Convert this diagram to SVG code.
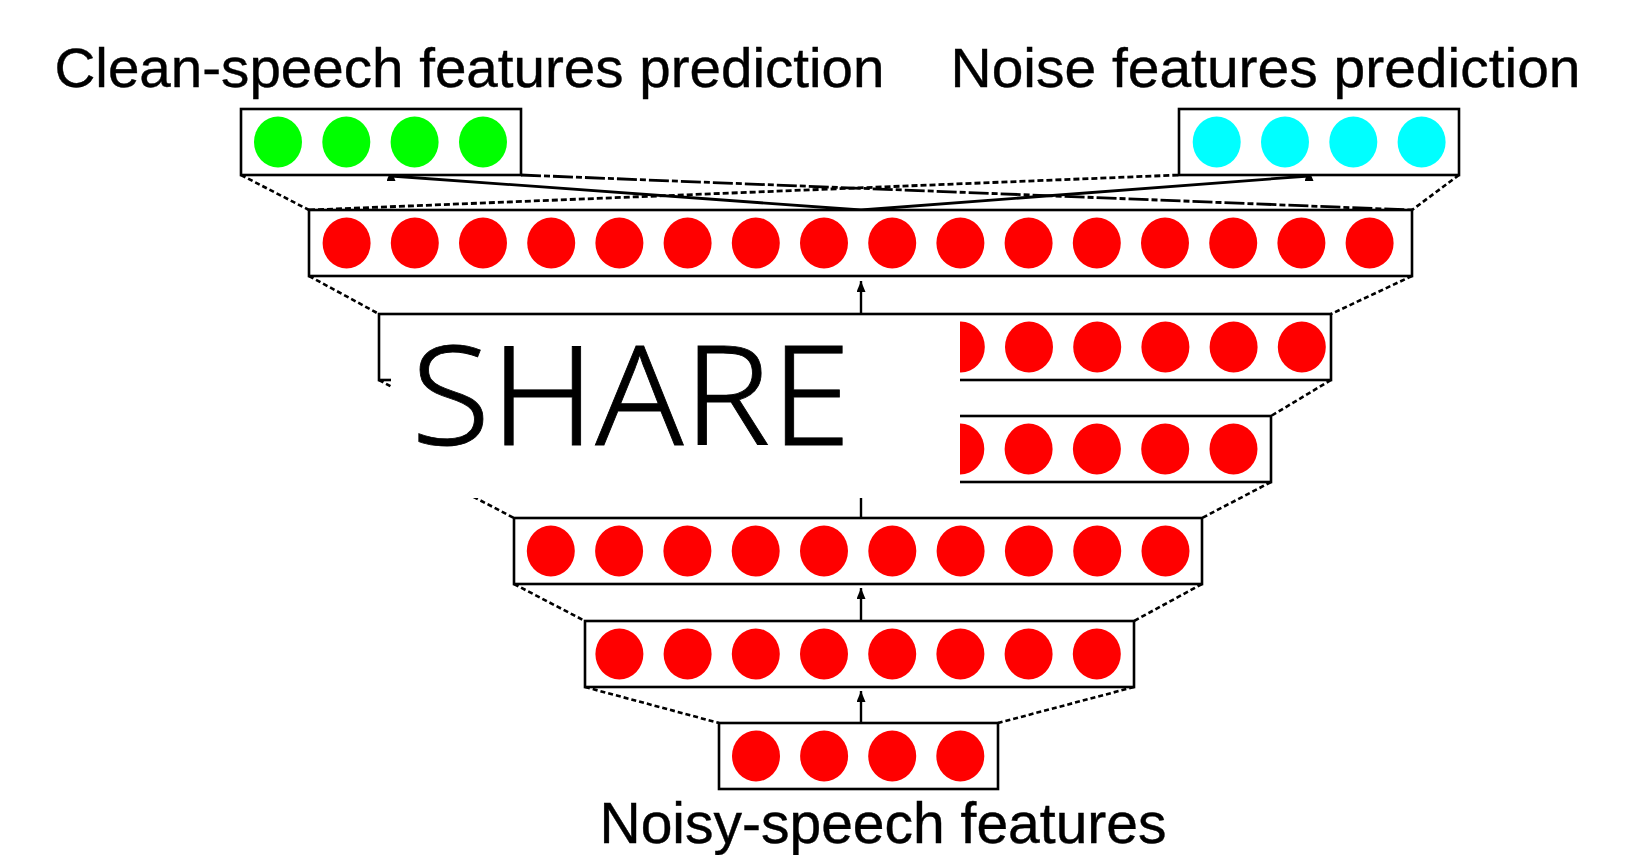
<svg xmlns="http://www.w3.org/2000/svg" width="1642" height="855" viewBox="0 0 1642 855">
  <style>
    .box { fill: #ffffff; stroke: #000000; stroke-width: 2.6; }
    .red { fill: #ff0000; }
    .green { fill: #00ff00; }
    .cyan { fill: #00ffff; }
    .title { font-family: "Liberation Sans", Arial, sans-serif; font-size: 56px; fill: #000000; stroke: #000000; stroke-width: 0.4; }
    .edge { fill: none; stroke: #000000; stroke-width: 2.6; stroke-dasharray: 5 3; }
    .stem { fill: none; stroke: #000000; stroke-width: 2.4; }
    .feed { fill: none; stroke: #000000; stroke-width: 2.8; }
    .cross-a { fill: none; stroke: #000000; stroke-width: 2.8; stroke-dasharray: 20 3 6 3; }
    .cross-b { fill: none; stroke: #000000; stroke-width: 2.8; stroke-dasharray: 6 3; }
    .share { font-family: "Noto Sans", "Noto Sans CJK JP", sans-serif; font-weight: 300; font-size: 139px; fill: #000000; stroke: #000000; stroke-width: 0.8; }
  </style>
  <defs>
    <marker id="arrow" markerUnits="userSpaceOnUse" markerWidth="11" markerHeight="9" refX="11" refY="4.5" orient="auto">
      <path d="M0,0 L11,4.5 L0,9 z" fill="#000000"/>
    </marker>
    <marker id="arrow-up" markerUnits="userSpaceOnUse" markerWidth="11" markerHeight="9" refX="5" refY="4.5" orient="270">
      <path d="M0,0 L11,4.5 L0,9 z" fill="#000000"/>
    </marker>
  </defs>

  <rect width="1642" height="855" fill="#ffffff"/>

  <!-- headings -->
  <text class="title" x="54.5" y="87" textLength="830" lengthAdjust="spacingAndGlyphs">Clean-speech features prediction</text>
  <text class="title" x="950.5" y="87" textLength="630" lengthAdjust="spacingAndGlyphs">Noise features prediction</text>
  <text class="title" x="599.5" y="843" style="font-size:57px" textLength="567" lengthAdjust="spacingAndGlyphs">Noisy-speech features</text>

  <!-- connectors between layers -->
  <g id="connectors">
    <!-- corner guides -->
    <line class="edge" x1="241" y1="175" x2="309" y2="210"/>
    <line class="edge" x1="1459" y1="175" x2="1412" y2="210"/>
    <line class="edge" x1="309" y1="276" x2="379" y2="314"/>
    <line class="edge" x1="1412" y1="276" x2="1331" y2="314"/>
    <line class="edge" x1="379" y1="380" x2="445" y2="416"/>
    <line class="edge" x1="1331" y1="380" x2="1271" y2="416"/>
    <line class="edge" x1="445" y1="482" x2="514" y2="518"/>
    <line class="edge" x1="1271" y1="482" x2="1202" y2="518"/>
    <line class="edge" x1="514" y1="584" x2="585" y2="621"/>
    <line class="edge" x1="1202" y1="584" x2="1134" y2="621"/>
    <line class="edge" x1="585" y1="687" x2="719" y2="723"/>
    <line class="edge" x1="1134" y1="687" x2="998" y2="723"/>
    <!-- crossing guides to the two output layers -->
    <line class="cross-a" x1="521" y1="175" x2="1412" y2="210"/>
    <line class="cross-b" x1="309" y1="210" x2="1179" y2="175"/>
    <!-- feed-forward arrows -->
    <line class="stem" x1="861" y1="723" x2="861" y2="691" marker-end="url(#arrow)"/>
    <line class="stem" x1="861" y1="621" x2="861" y2="588" marker-end="url(#arrow)"/>
    <line class="stem" x1="861" y1="518" x2="861" y2="486" marker-end="url(#arrow)"/>
    <line class="stem" x1="861" y1="416" x2="861" y2="384" marker-end="url(#arrow)"/>
    <line class="stem" x1="861" y1="314" x2="861" y2="281" marker-end="url(#arrow)"/>
    <line class="feed" x1="861" y1="210" x2="391" y2="176" marker-end="url(#arrow-up)"/>
    <line class="feed" x1="861" y1="210" x2="1309" y2="176" marker-end="url(#arrow-up)"/>
  </g>

  <!-- output layer: clean speech -->
  <g id="clean-output">
    <rect class="box" x="241" y="109" width="280" height="66"/>
    <ellipse class="green" cx="278" cy="142" rx="24" ry="25.5"/>
    <ellipse class="green" cx="346.3" cy="142" rx="24" ry="25.5"/>
    <ellipse class="green" cx="414.6" cy="142" rx="24" ry="25.5"/>
    <ellipse class="green" cx="483" cy="142" rx="24" ry="25.5"/>
  </g>

  <!-- output layer: noise -->
  <g id="noise-output">
    <rect class="box" x="1179" y="109" width="280" height="66"/>
    <ellipse class="cyan" cx="1216.7" cy="142" rx="24" ry="25.5"/>
    <ellipse class="cyan" cx="1285" cy="142" rx="24" ry="25.5"/>
    <ellipse class="cyan" cx="1353.3" cy="142" rx="24" ry="25.5"/>
    <ellipse class="cyan" cx="1421.6" cy="142" rx="24" ry="25.5"/>
  </g>

  <!-- hidden layer 6 (16 units) -->
  <g id="hidden-6">
    <rect class="box" x="309" y="210" width="1103" height="66"/>
    <ellipse class="red" cx="346.6" cy="243" rx="24" ry="25.5"/>
    <ellipse class="red" cx="414.8" cy="243" rx="24" ry="25.5"/>
    <ellipse class="red" cx="483" cy="243" rx="24" ry="25.5"/>
    <ellipse class="red" cx="551.2" cy="243" rx="24" ry="25.5"/>
    <ellipse class="red" cx="619.4" cy="243" rx="24" ry="25.5"/>
    <ellipse class="red" cx="687.6" cy="243" rx="24" ry="25.5"/>
    <ellipse class="red" cx="755.8" cy="243" rx="24" ry="25.5"/>
    <ellipse class="red" cx="824" cy="243" rx="24" ry="25.5"/>
    <ellipse class="red" cx="892.2" cy="243" rx="24" ry="25.5"/>
    <ellipse class="red" cx="960.4" cy="243" rx="24" ry="25.5"/>
    <ellipse class="red" cx="1028.6" cy="243" rx="24" ry="25.5"/>
    <ellipse class="red" cx="1096.8" cy="243" rx="24" ry="25.5"/>
    <ellipse class="red" cx="1165" cy="243" rx="24" ry="25.5"/>
    <ellipse class="red" cx="1233.2" cy="243" rx="24" ry="25.5"/>
    <ellipse class="red" cx="1301.4" cy="243" rx="24" ry="25.5"/>
    <ellipse class="red" cx="1369.6" cy="243" rx="24" ry="25.5"/>
  </g>

  <!-- hidden layer 5 (14 units) -->
  <g id="hidden-5">
    <rect class="box" x="379" y="314" width="952" height="66"/>
    <ellipse class="red" cx="415.2" cy="347" rx="24" ry="25.5"/>
    <ellipse class="red" cx="483.4" cy="347" rx="24" ry="25.5"/>
    <ellipse class="red" cx="551.6" cy="347" rx="24" ry="25.5"/>
    <ellipse class="red" cx="619.8" cy="347" rx="24" ry="25.5"/>
    <ellipse class="red" cx="688" cy="347" rx="24" ry="25.5"/>
    <ellipse class="red" cx="756.2" cy="347" rx="24" ry="25.5"/>
    <ellipse class="red" cx="824.4" cy="347" rx="24" ry="25.5"/>
    <ellipse class="red" cx="892.6" cy="347" rx="24" ry="25.5"/>
    <ellipse class="red" cx="960.8" cy="347" rx="24" ry="25.5"/>
    <ellipse class="red" cx="1029" cy="347" rx="24" ry="25.5"/>
    <ellipse class="red" cx="1097.2" cy="347" rx="24" ry="25.5"/>
    <ellipse class="red" cx="1165.4" cy="347" rx="24" ry="25.5"/>
    <ellipse class="red" cx="1233.6" cy="347" rx="24" ry="25.5"/>
    <ellipse class="red" cx="1301.8" cy="347" rx="24" ry="25.5"/>
  </g>

  <!-- hidden layer 4 (12 units) -->
  <g id="hidden-4">
    <rect class="box" x="445" y="416" width="826" height="66"/>
    <ellipse class="red" cx="482.2" cy="449" rx="24" ry="25.5"/>
    <ellipse class="red" cx="550.5" cy="449" rx="24" ry="25.5"/>
    <ellipse class="red" cx="618.8" cy="449" rx="24" ry="25.5"/>
    <ellipse class="red" cx="687.1" cy="449" rx="24" ry="25.5"/>
    <ellipse class="red" cx="755.4" cy="449" rx="24" ry="25.5"/>
    <ellipse class="red" cx="823.7" cy="449" rx="24" ry="25.5"/>
    <ellipse class="red" cx="892" cy="449" rx="24" ry="25.5"/>
    <ellipse class="red" cx="960.3" cy="449" rx="24" ry="25.5"/>
    <ellipse class="red" cx="1028.6" cy="449" rx="24" ry="25.5"/>
    <ellipse class="red" cx="1096.9" cy="449" rx="24" ry="25.5"/>
    <ellipse class="red" cx="1165.2" cy="449" rx="24" ry="25.5"/>
    <ellipse class="red" cx="1233.5" cy="449" rx="24" ry="25.5"/>
  </g>

  <!-- hidden layer 3 (10 units) -->
  <g id="hidden-3">
    <rect class="box" x="514" y="518" width="688" height="66"/>
    <ellipse class="red" cx="550.8" cy="551" rx="24" ry="25.5"/>
    <ellipse class="red" cx="619.1" cy="551" rx="24" ry="25.5"/>
    <ellipse class="red" cx="687.4" cy="551" rx="24" ry="25.5"/>
    <ellipse class="red" cx="755.7" cy="551" rx="24" ry="25.5"/>
    <ellipse class="red" cx="824" cy="551" rx="24" ry="25.5"/>
    <ellipse class="red" cx="892.3" cy="551" rx="24" ry="25.5"/>
    <ellipse class="red" cx="960.6" cy="551" rx="24" ry="25.5"/>
    <ellipse class="red" cx="1028.9" cy="551" rx="24" ry="25.5"/>
    <ellipse class="red" cx="1097.2" cy="551" rx="24" ry="25.5"/>
    <ellipse class="red" cx="1165.5" cy="551" rx="24" ry="25.5"/>
  </g>

  <!-- hidden layer 2 (8 units) -->
  <g id="hidden-2">
    <rect class="box" x="585" y="621" width="549" height="66"/>
    <ellipse class="red" cx="619.4" cy="654" rx="24" ry="25.5"/>
    <ellipse class="red" cx="687.6" cy="654" rx="24" ry="25.5"/>
    <ellipse class="red" cx="755.8" cy="654" rx="24" ry="25.5"/>
    <ellipse class="red" cx="824" cy="654" rx="24" ry="25.5"/>
    <ellipse class="red" cx="892.2" cy="654" rx="24" ry="25.5"/>
    <ellipse class="red" cx="960.4" cy="654" rx="24" ry="25.5"/>
    <ellipse class="red" cx="1028.6" cy="654" rx="24" ry="25.5"/>
    <ellipse class="red" cx="1096.8" cy="654" rx="24" ry="25.5"/>
  </g>

  <!-- input layer (4 units) -->
  <g id="input">
    <rect class="box" x="719" y="723" width="279" height="66"/>
    <ellipse class="red" cx="756" cy="756" rx="24" ry="25.5"/>
    <ellipse class="red" cx="824.1" cy="756" rx="24" ry="25.5"/>
    <ellipse class="red" cx="892.2" cy="756" rx="24" ry="25.5"/>
    <ellipse class="red" cx="960.3" cy="756" rx="24" ry="25.5"/>
  </g>

  <!-- shared-layers label panel -->
  <g id="share-label">
    <rect x="391" y="316" width="569" height="182" fill="#ffffff"/>
    <text class="share" x="411" y="445" textLength="440" lengthAdjust="spacingAndGlyphs">SHARE</text>
  </g>
</svg>
